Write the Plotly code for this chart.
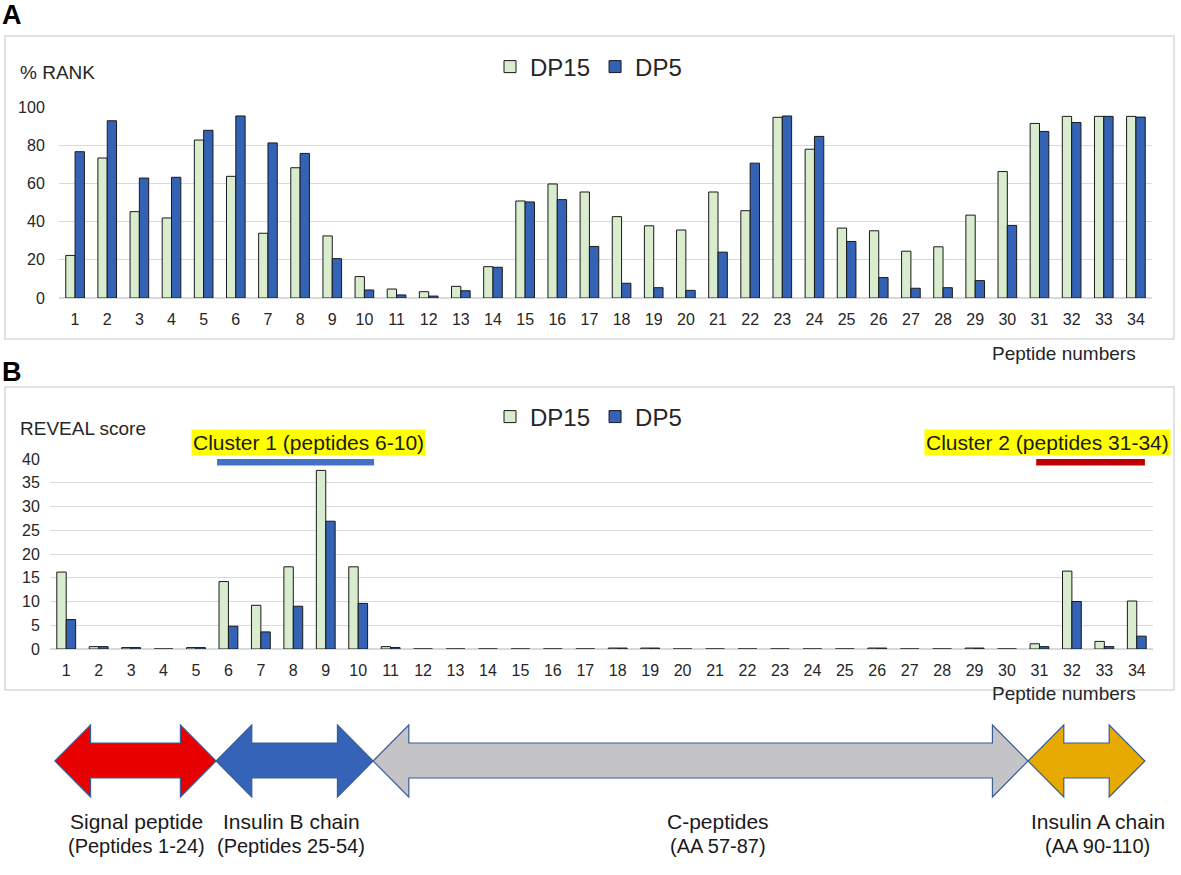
import plotly.graph_objects as go

W, H = 1181, 875

peptides = list(range(1, 35))

# panel A: % RANK
rank_dp15 = [22.3, 73.3, 45.2, 41.9, 82.7, 63.7, 33.9, 68.2, 32.5, 11.2,
             4.7, 3.3, 6.1, 16.4, 50.8, 59.7, 55.5, 42.6, 37.8, 35.6,
             55.5, 45.7, 94.6, 77.9, 36.6, 35.2, 24.5, 26.8, 43.4, 66.2,
             91.4, 95.1, 95.1, 95.1]
rank_dp5 = [76.6, 92.8, 62.8, 63.2, 87.8, 95.3, 81.2, 75.7, 20.6, 4.2,
            1.6, 1.0, 3.8, 16.1, 50.3, 51.5, 27.0, 7.7, 5.4, 4.0,
            24.0, 70.6, 95.3, 84.6, 29.6, 10.7, 5.1, 5.4, 9.1, 38.0,
            87.2, 91.9, 95.1, 94.7]

# panel B: REVEAL score
reveal_dp15 = [16.2, 0.5, 0.3, 0, 0.3, 14.2, 9.2, 17.3, 37.6, 17.3,
               0.5, 0, 0, 0, 0, 0, 0, 0.2, 0.2, 0,
               0, 0, 0, 0, 0, 0.2, 0, 0, 0.2, 0,
               1.1, 16.4, 1.6, 10.1]
reveal_dp5 = [6.2, 0.5, 0.3, 0, 0.3, 4.8, 3.6, 9.0, 26.9, 9.6,
              0.3, 0, 0, 0, 0, 0, 0, 0.2, 0.2, 0,
              0, 0, 0, 0, 0, 0.2, 0, 0, 0.2, 0,
              0.5, 10.0, 0.5, 2.7]

# clusters: label, start, end (peptide axis), label centre (px), colour
clusters = [
    ("Cluster 1 (peptides 6-10)", 5.65, 10.49, 308, "#4472C4"),
    ("Cluster 2 (peptides 31-34)", 30.9, 34.25, 1047, "#C00000"),
]

# proinsulin regions along the peptide axis
region_names = ["Signal peptide", "Insulin B chain", "C-peptides", "Insulin A chain"]
region_sub = ["(Peptides 1-24)", "(Peptides 25-54)", "(AA 57-87)", "(AA 90-110)"]
region_bounds = [0.65, 5.62, 10.46, 30.65, 34.25]
region_label_x = [3.18, 7.93, 21.09, 32.8]
region_colors = ["#E80000", "#3563B8", "#C4C4C6", "#E6AA00"]

FONT = "Liberation Sans, Arial, sans-serif"
TXT = "#262626"
GRID = "#D9D9D9"
C15 = "#D9ECCD"
C5 = "#3462B4"


def py(px):
    return 1 - px / H


def pxx(px):
    return px / W


fig = go.Figure()

for ys, name, col, ax, lg in [
    (rank_dp15, "DP15", C15, ("x", "y"), "legend"),
    (rank_dp5, "DP5", C5, ("x", "y"), "legend"),
    (reveal_dp15, "DP15", C15, ("x2", "y2"), "legend2"),
    (reveal_dp5, "DP5", C5, ("x2", "y2"), "legend2"),
]:
    fig.add_trace(go.Bar(
        x=peptides, y=ys, name=name, xaxis=ax[0], yaxis=ax[1], legend=lg,
        marker=dict(color=col, line=dict(color="#1a1a1a", width=1)),
    ))

axis_common = dict(tickfont=dict(size=16, color=TXT, family=FONT), fixedrange=True)

fig.update_layout(
    width=W, height=H,
    margin=dict(l=0, r=0, t=0, b=0, autoexpand=False),
    paper_bgcolor="white", plot_bgcolor="white",
    font=dict(family=FONT, color=TXT),
    barmode="group", bargap=0.42, bargroupgap=0,
    xaxis=dict(domain=[pxx(59), pxx(1152)], range=[0.5, 34.5], tickvals=peptides,
               showgrid=False, ticks="outside", ticklen=7, tickcolor="rgba(0,0,0,0)",
               anchor="y", **axis_common),
    yaxis=dict(domain=[py(298), py(107)], range=[0, 100], dtick=20,
               gridcolor=GRID, zerolinecolor=GRID, zerolinewidth=1.5,
               ticks="outside", ticklen=10, tickcolor="rgba(0,0,0,0)",
               anchor="x", **axis_common),
    xaxis2=dict(domain=[pxx(50), pxx(1153)], range=[0.5, 34.5], tickvals=peptides,
                showgrid=False, ticks="outside", ticklen=7, tickcolor="rgba(0,0,0,0)",
                anchor="y2", **axis_common),
    yaxis2=dict(domain=[py(649), py(459)], range=[0, 40], dtick=5,
                gridcolor=GRID, zerolinecolor=GRID, zerolinewidth=1.5,
                ticks="outside", ticklen=6, tickcolor="rgba(0,0,0,0)",
                anchor="x2", **axis_common),
    legend=dict(orientation="h", x=pxx(490), y=py(67), xanchor="left", yanchor="middle",
                font=dict(size=24, color=TXT), bgcolor="rgba(0,0,0,0)"),
    legend2=dict(orientation="h", x=pxx(490), y=py(417), xanchor="left", yanchor="middle",
                 font=dict(size=24, color=TXT), bgcolor="rgba(0,0,0,0)"),
)

# panel frames
for top, bottom in [(36, 339), (387, 690)]:
    fig.add_shape(type="rect", xref="paper", yref="paper",
                  x0=pxx(5), x1=pxx(1174), y0=py(bottom), y1=py(top),
                  line=dict(color=GRID, width=1.5), layer="below")

# cluster bars and labels
for label, x0, x1, xc, col in clusters:
    fig.add_shape(type="line", xref="x2", yref="y2", x0=x0, x1=x1, y0=39.5, y1=39.5,
                  line=dict(color=col, width=8))
    fig.add_annotation(text=label, xref="paper", yref="paper", x=pxx(xc), y=py(442),
                       xanchor="center", showarrow=False, bgcolor="#FFFF00", borderpad=1,
                       font=dict(size=21, color="#1a1a1a"))

# region arrows (double-headed) below panel B
yc, yh_top, yh_bot, ys_top, ys_bot = py(761), py(725), py(797), py(743), py(778)
head = 1.1
for i, col in enumerate(region_colors):
    a, b = region_bounds[i], region_bounds[i + 1]
    path = (f"M {a},{yc} L {a + head},{yh_top} L {a + head},{ys_top} "
            f"L {b - head},{ys_top} L {b - head},{yh_top} L {b},{yc} "
            f"L {b - head},{yh_bot} L {b - head},{ys_bot} L {a + head},{ys_bot} "
            f"L {a + head},{yh_bot} Z")
    fig.add_shape(type="path", xref="x2", yref="paper", path=path,
                  fillcolor=col, line=dict(color="#3A5D96", width=1.2))
    fig.add_annotation(text=region_names[i], xref="x2", yref="paper",
                       x=region_label_x[i], y=py(835), xanchor="center", showarrow=False,
                       font=dict(size=21, color="#1a1a1a"))
    fig.add_annotation(text=region_sub[i], xref="x2", yref="paper",
                       x=region_label_x[i], y=py(859), xanchor="center", showarrow=False,
                       font=dict(size=20, color="#1a1a1a"))

# titles and axis labels
texts = [
    ("<b>A</b>", 0, 15, 27, "#000000"),
    ("<b>B</b>", 0, 372, 27, "#000000"),
    ("% RANK", 18, 72, 19, TXT),
    ("REVEAL score", 18, 429, 19, TXT),
]
for t, x, y, s, c in texts:
    fig.add_annotation(text=t, xref="paper", yref="paper", x=pxx(x), y=py(y),
                       xanchor="left", yanchor="middle", showarrow=False,
                       font=dict(size=s, color=c))
for y in (353, 706):
    fig.add_annotation(text="Peptide numbers", xref="paper", yref="paper",
                       x=pxx(1064), y=py(y), xanchor="center", showarrow=False,
                       font=dict(size=19, color=TXT))

# drop the default page margin so the figure sits at the window origin
fig.write_html("out.html", config={"displayModeBar": False},
               post_script="document.body.style.margin='0';")
